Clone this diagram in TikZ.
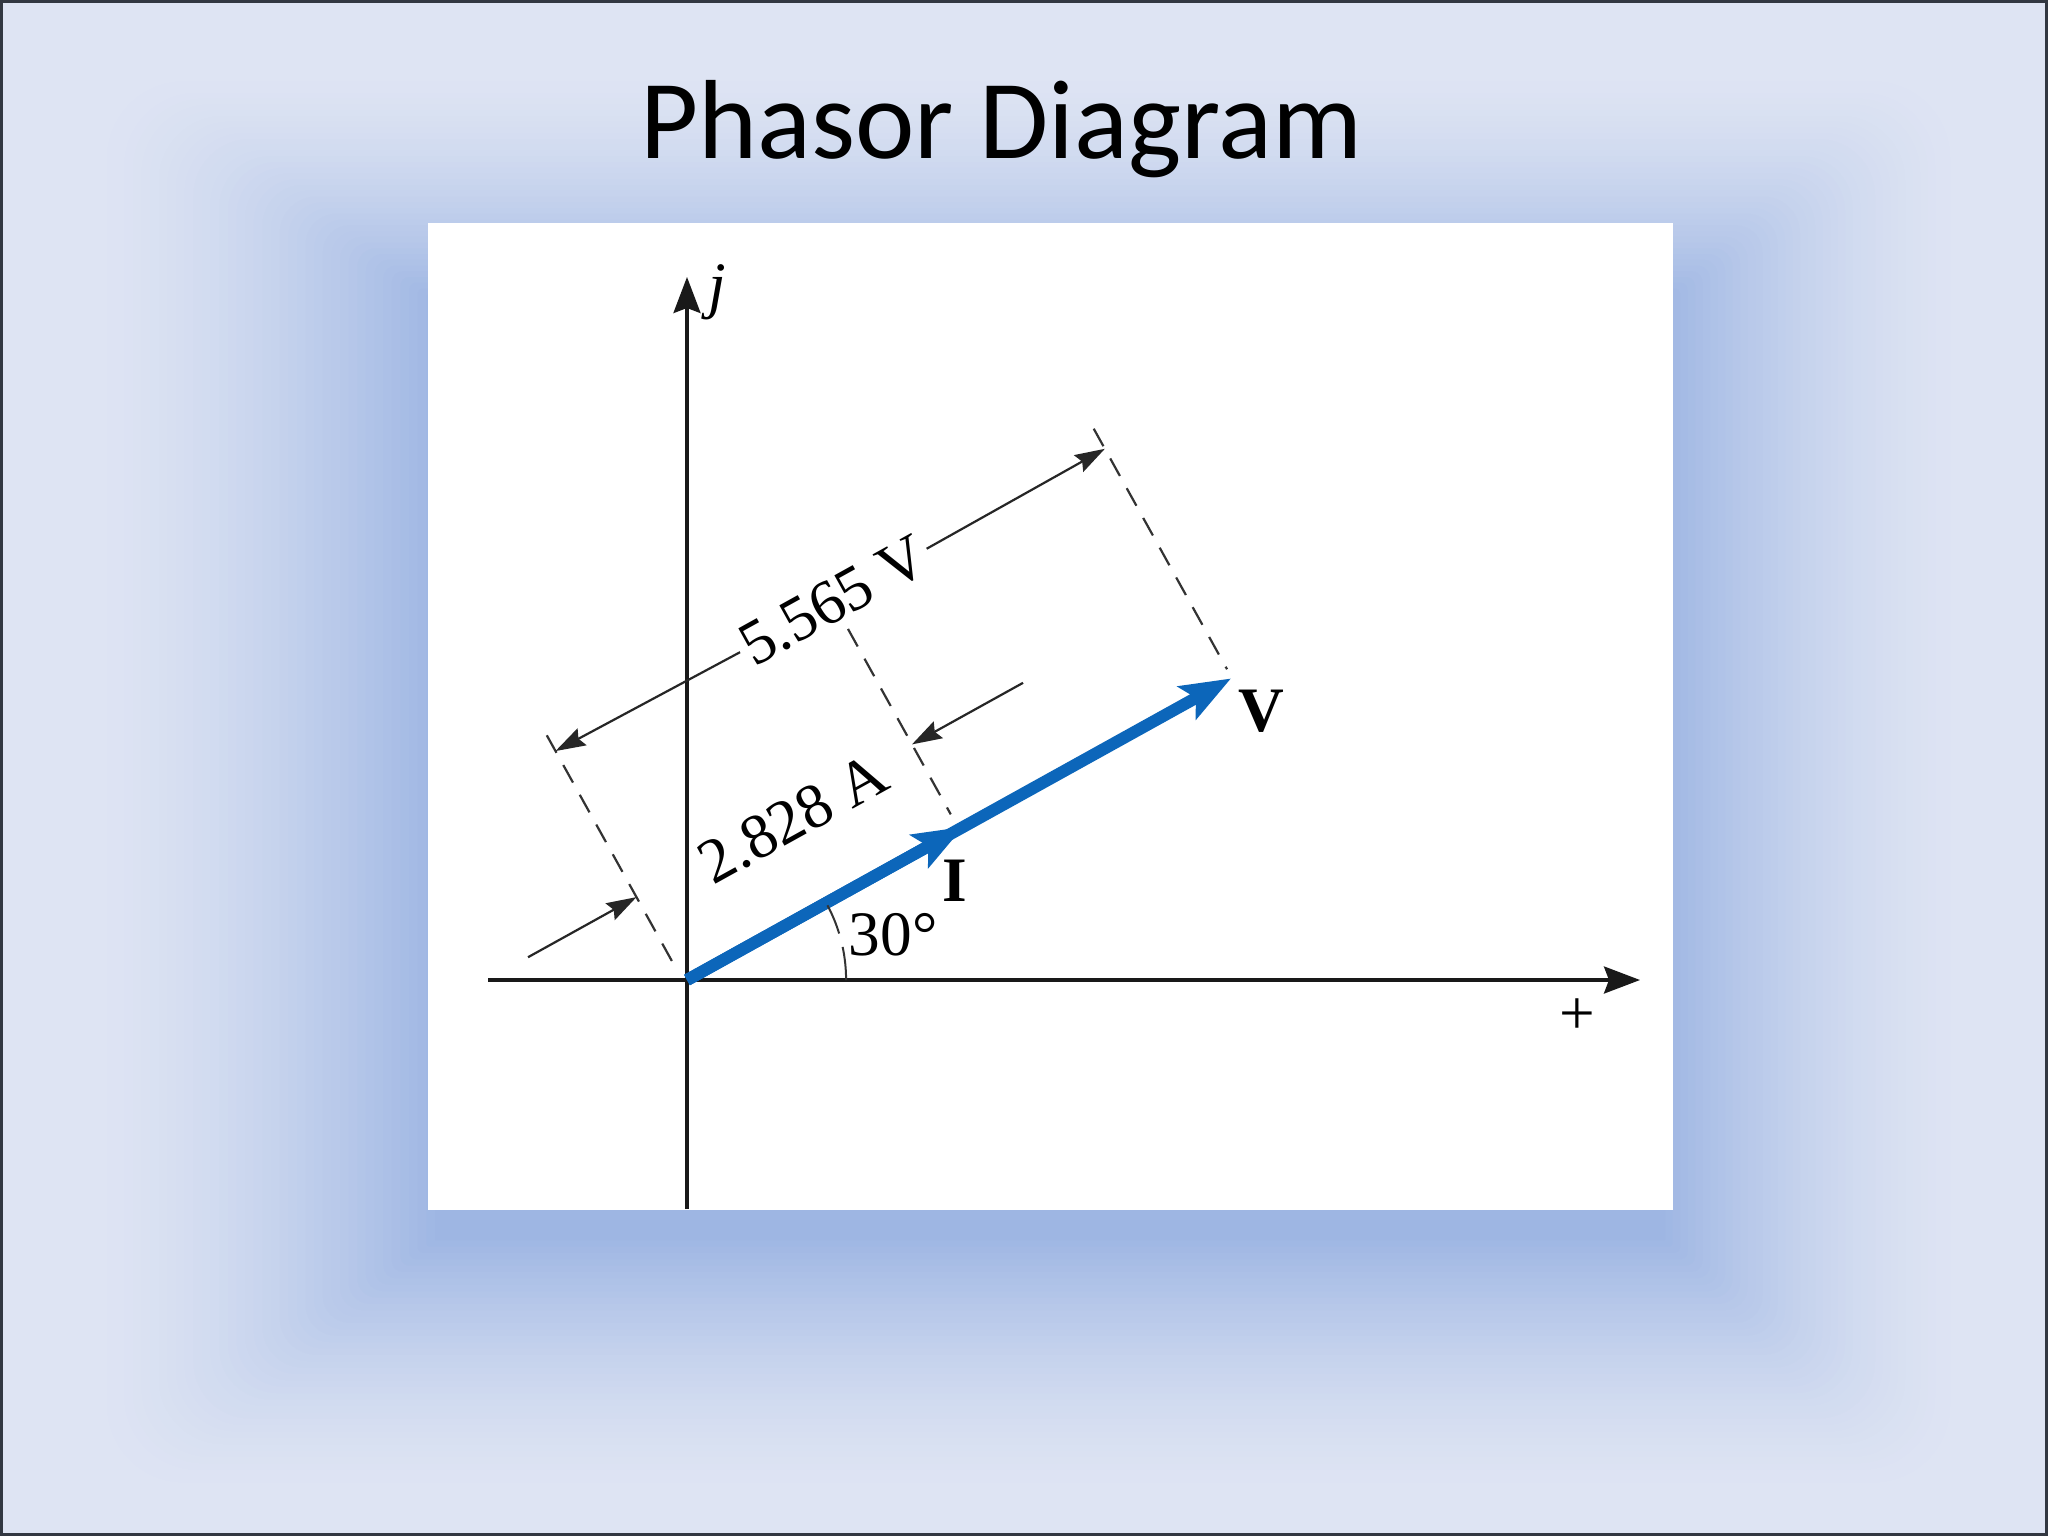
\documentclass[tikz,border=0pt]{standalone}
\usepackage{fontspec}
\setmainfont{Liberation Serif}
\newfontfamily\titlefont{Carlito}
\usetikzlibrary{arrows.meta,calc}
\definecolor{bgouter}{RGB}{222,228,243}
\definecolor{bginner}{RGB}{158,182,227}
\definecolor{phasorblue}{RGB}{12,102,186}
\definecolor{framedark}{RGB}{50,55,65}
\begin{document}
\begin{tikzpicture}[x=0.01cm,y=0.01cm,
  axis/.style={line width=0.032cm, black!90, -{Stealth[length=0.36cm,width=0.27cm,inset=0.05cm]}},
  phasor/.style={line width=0.12cm, phasorblue, -{Stealth[length=0.5cm,width=0.37cm,inset=0.1cm]}},
  dimline/.style={line width=0.022cm, black!85, -{Stealth[length=0.3cm,width=0.19cm,inset=0.04cm]}},
  extline/.style={line width=0.022cm, black!80, dash pattern=on 0.2cm off 0.14cm},
  arcline/.style={line width=0.02cm, black!80},
  lbl/.style={font=\fontsize{18}{20}\selectfont, inner sep=0.04cm, text=black},
  boldlbl/.style={font=\fontsize{18}{20}\selectfont\bfseries, inner sep=0pt, text=black},
  panel/.style={fill=white, draw=none, inner sep=0pt, anchor=north west}
]
\useasboundingbox (0,0) rectangle (2048,-1536);
% background glow
\fill[bgouter] (0,0) rectangle (2048,-1536);
\foreach \k in {0,...,40} {
  \pgfmathsetmacro{\gf}{\k/40}
  \pgfmathsetmacro{\gmix}{100*pow(\gf,1.5)}
  \pgfmathsetmacro{\gxa}{90+345*\gf}
  \pgfmathsetmacro{\gya}{70+230*\gf}
  \pgfmathsetmacro{\gxb}{1965-300*\gf}
  \pgfmathsetmacro{\gyb}{1495-255*\gf}
  \pgfmathsetmacro{\grr}{0.8*(1-\gf)+0.01}
  \fill[bginner!\gmix!bgouter, rounded corners=\grr cm] (\gxa,-\gya) rectangle (\gxb,-\gyb);
}
\draw[framedark, line width=0.03cm] (1.5,-1.5) rectangle (2046.5,-1534.5);
% white panel
\node[panel, minimum width=12.45cm, minimum height=9.87cm] (box) at (427,-222) {};
% title
\node[font=\titlefont\fontsize{32}{38}\selectfont, anchor=base, inner sep=0pt] (title) at (1001,-158) {Phasor Diagram};
% axes
\coordinate (O) at (687,-980);
\coordinate (xL) at (488,-980);
\coordinate (xR) at (1640,-980);
\coordinate (yB) at (687,-1209);
\coordinate (yT) at (687,-277);
\draw[axis] (xL) -- (xR);
\draw[axis] (yB) -- (yT);
\node[lbl, font=\fontsize{18}{20}\selectfont\itshape, inner sep=0pt] (jlab) at (717,-292) {j};
\node[lbl, inner sep=0pt] (plus) at (1577,-1017) {+};
% rotated frame
\begin{scope}[shift={(O)}, rotate=29]
  \coordinate (Vtip) at (622,0);
  \coordinate (Itip) at (316,0);
  \coordinate (eL0) at (-4,24);
  \coordinate (eL1) at (-4,282);
  \coordinate (eM0) at (311,17);
  \coordinate (eM1) at (311,229);
  \coordinate (eR0) at (623,10);
  \coordinate (eR1) at (623,285);
  \coordinate (dVL) at (-4,264);
  \coordinate (dVR) at (623,262);
  \coordinate (pV) at (312,261);
  \coordinate (dAL0) at (-128,97);
  \coordinate (dAL1) at (-4,97);
  \coordinate (dAR0) at (438,97);
  \coordinate (dAR1) at (311,97);
  \coordinate (pA) at (171,90);
\end{scope}
\node[lbl, rotate=29] (lblV) at (pV) {5.565 V};
\node[lbl, rotate=29] (lblA) at (pA) {2.828 A};
\draw[extline] (eL1) -- (eL0);
\draw[extline] (eM1) -- (eM0);
\draw[extline] (eR1) -- (eR0);
\draw[dimline] (lblV.west) -- (dVL);
\draw[dimline] (lblV.east) -- (dVR);
\draw[dimline] (dAL0) -- (dAL1);
\draw[dimline] (dAR0) -- (dAR1);
\draw[phasor] (O) -- (Vtip);
\draw[phasor] (O) -- (Itip);
% angle arc
\draw[arcline] ($(O)+(0:1.59cm)$) arc[start angle=0, end angle=12, radius=1.59cm];
\draw[arcline] ($(O)+(17:1.59cm)$) arc[start angle=17, end angle=28, radius=1.59cm];
\node[lbl, inner sep=0pt] (deg) at (893,-935) {30°};
\node[boldlbl] (Vlab) at (1261,-711) {V};
\node[boldlbl] (Ilab) at (955,-881) {I};
\end{tikzpicture}
\end{document}
